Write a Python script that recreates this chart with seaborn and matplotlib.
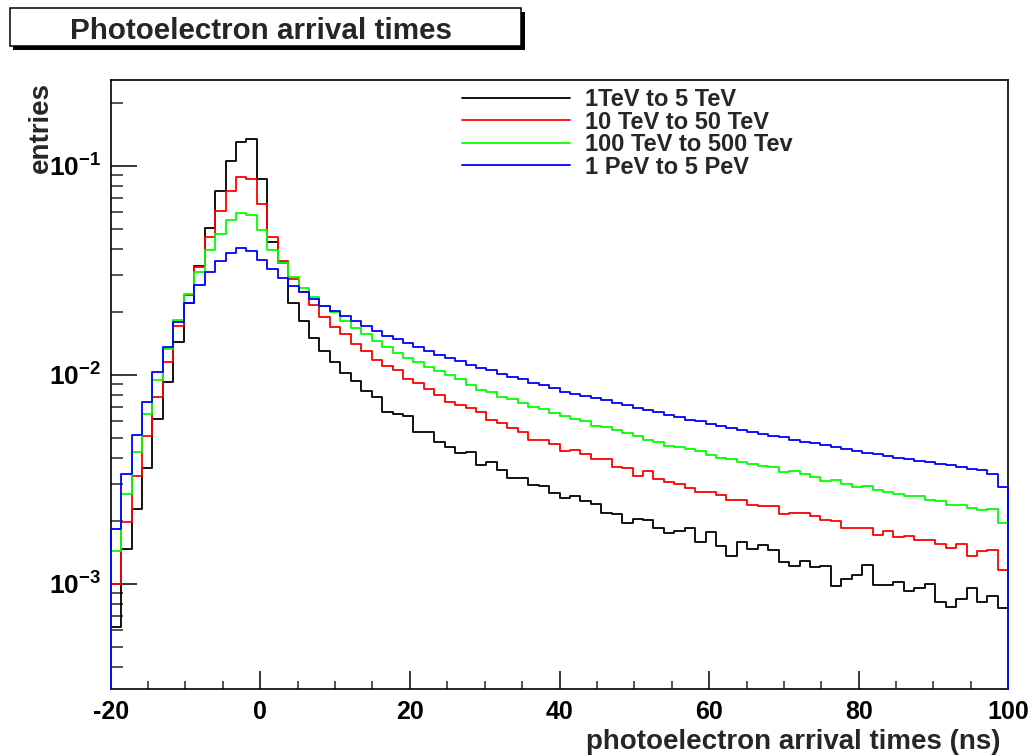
import numpy as np
import pandas as pd
import matplotlib
matplotlib.use("Agg")
import matplotlib.pyplot as plt
import seaborn as sns
from matplotlib.patches import Rectangle
from matplotlib.lines import Line2D
from matplotlib.ticker import LogLocator, NullFormatter, MultipleLocator, FixedLocator, FixedFormatter

# ---------------- data ----------------
x_min, x_max, n_bins = -20.0, 100.0, 86
y_min, y_max = 3.13e-4, 0.257

tev_1_5 = [6.23e-4, 1.47e-3, 2.28e-3, 3.57e-3, 6.16e-3, 9.22e-3, 1.43e-2, 2.21e-2, 3.32e-2, 5.05e-2,
           7.57e-2, 0.105, 0.130, 0.1346, 0.0864, 0.0431, 0.0341, 0.0220, 0.0181, 0.0150,
           0.0130, 0.01147, 0.01022, 9.33e-3, 8.36e-3, 7.85e-3, 6.65e-3, 6.46e-3, 6.34e-3, 5.30e-3,
           5.34e-3, 4.76e-3, 4.51e-3, 4.23e-3, 4.28e-3, 3.71e-3, 3.83e-3, 3.51e-3, 3.22e-3, 3.22e-3,
           2.97e-3, 2.94e-3, 2.71e-3, 2.58e-3, 2.62e-3, 2.49e-3, 2.41e-3, 2.19e-3, 2.15e-3, 1.95e-3,
           2.04e-3, 2.01e-3, 1.84e-3, 1.75e-3, 1.79e-3, 1.85e-3, 1.59e-3, 1.77e-3, 1.52e-3, 1.36e-3,
           1.58e-3, 1.47e-3, 1.53e-3, 1.45e-3, 1.27e-3, 1.22e-3, 1.28e-3, 1.20e-3, 1.22e-3, 9.78e-4,
           1.06e-3, 1.10e-3, 1.23e-3, 9.86e-4, 9.86e-4, 1.02e-3, 9.26e-4, 9.57e-4, 1.00e-3, 8.17e-4,
           7.71e-4, 8.42e-4, 9.51e-4, 8.20e-4, 8.70e-4, 7.68e-4]

tev_10_50 = [1.00e-3, 1.98e-3, 3.29e-3, 5.11e-3, 7.85e-3, 1.147e-2, 1.71e-2, 2.41e-2, 3.29e-2, 4.57e-2,
             6.09e-2, 7.59e-2, 8.80e-2, 8.67e-2, 6.54e-2, 4.54e-2, 3.51e-2, 2.87e-2, 2.49e-2, 2.16e-2,
             1.89e-2, 1.70e-2, 1.57e-2, 1.41e-2, 1.30e-2, 1.18e-2, 1.10e-2, 1.053e-2, 9.54e-3, 9.13e-3,
             8.57e-3, 8.02e-3, 7.38e-3, 7.19e-3, 6.91e-3, 6.61e-3, 6.05e-3, 5.89e-3, 5.56e-3, 5.34e-3,
             4.87e-3, 4.87e-3, 4.68e-3, 4.33e-3, 4.36e-3, 4.19e-3, 3.96e-3, 3.94e-3, 3.63e-3, 3.58e-3,
             3.29e-3, 3.45e-3, 3.18e-3, 3.08e-3, 3.00e-3, 2.86e-3, 2.75e-3, 2.74e-3, 2.66e-3, 2.52e-3,
             2.52e-3, 2.37e-3, 2.35e-3, 2.36e-3, 2.16e-3, 2.17e-3, 2.17e-3, 2.11e-3, 2.03e-3, 1.99e-3,
             1.85e-3, 1.85e-3, 1.84e-3, 1.71e-3, 1.78e-3, 1.68e-3, 1.69e-3, 1.62e-3, 1.62e-3, 1.55e-3,
             1.49e-3, 1.55e-3, 1.36e-3, 1.44e-3, 1.45e-3, 1.16e-3]

tev_100_500 = [1.44e-3, 2.68e-3, 4.28e-3, 6.46e-3, 9.46e-3, 1.33e-2, 1.83e-2, 2.43e-2, 3.11e-2, 3.95e-2,
               4.71e-2, 5.50e-2, 5.96e-2, 5.83e-2, 4.93e-2, 3.95e-2, 3.41e-2, 2.92e-2, 2.60e-2, 2.35e-2,
               2.13e-2, 2.00e-2, 1.81e-2, 1.68e-2, 1.56e-2, 1.45e-2, 1.36e-2, 1.27e-2, 1.20e-2, 1.15e-2,
               1.09e-2, 1.04e-2, 1.00e-2, 9.51e-3, 8.93e-3, 8.45e-3, 8.26e-3, 7.85e-3, 7.63e-3, 7.30e-3,
               7.03e-3, 6.83e-3, 6.54e-3, 6.37e-3, 6.14e-3, 6.00e-3, 5.68e-3, 5.60e-3, 5.44e-3, 5.24e-3,
               5.09e-3, 4.86e-3, 4.78e-3, 4.57e-3, 4.49e-3, 4.42e-3, 4.33e-3, 4.13e-3, 4.02e-3, 3.94e-3,
               3.83e-3, 3.73e-3, 3.66e-3, 3.61e-3, 3.42e-3, 3.47e-3, 3.34e-3, 3.25e-3, 3.11e-3, 3.13e-3,
               3.00e-3, 2.92e-3, 2.94e-3, 2.82e-3, 2.75e-3, 2.69e-3, 2.64e-3, 2.64e-3, 2.51e-3, 2.49e-3,
               2.37e-3, 2.39e-3, 2.31e-3, 2.25e-3, 2.28e-3, 1.95e-3]

pev_1_5 = [1.83e-3, 3.37e-3, 5.15e-3, 7.38e-3, 1.03e-2, 1.36e-2, 1.78e-2, 2.21e-2, 2.69e-2, 3.11e-2,
           3.51e-2, 3.83e-2, 4.03e-2, 3.92e-2, 3.54e-2, 3.19e-2, 2.89e-2, 2.66e-2, 2.48e-2, 2.30e-2,
           2.13e-2, 2.02e-2, 1.91e-2, 1.81e-2, 1.71e-2, 1.62e-2, 1.54e-2, 1.48e-2, 1.42e-2, 1.36e-2,
           1.30e-2, 1.25e-2, 1.20e-2, 1.16e-2, 1.11e-2, 1.08e-2, 1.05e-2, 1.01e-2, 9.72e-3, 9.54e-3,
           9.16e-3, 8.93e-3, 8.61e-3, 8.29e-3, 8.09e-3, 7.94e-3, 7.71e-3, 7.54e-3, 7.35e-3, 7.19e-3,
           6.91e-3, 6.76e-3, 6.61e-3, 6.41e-3, 6.25e-3, 6.09e-3, 5.98e-3, 5.83e-3, 5.68e-3, 5.56e-3,
           5.42e-3, 5.32e-3, 5.19e-3, 5.09e-3, 5.05e-3, 4.87e-3, 4.78e-3, 4.71e-3, 4.59e-3, 4.51e-3,
           4.40e-3, 4.31e-3, 4.23e-3, 4.19e-3, 4.10e-3, 4.01e-3, 3.94e-3, 3.88e-3, 3.81e-3, 3.74e-3,
           3.69e-3, 3.62e-3, 3.55e-3, 3.50e-3, 3.37e-3, 2.89e-3]

series_labels = ["1TeV to 5 TeV", "10 TeV to 50 TeV", "100 TeV to 500 Tev", "1 PeV to 5 PeV"]
series_colors = ["#000000", "#ff0000", "#00ff00", "#0000ff"]
x_ticks = [-20, 0, 20, 40, 60, 80, 100]
y_ticks = [1e-3, 1e-2, 1e-1]
y_tick_labels = [r"$\mathbf{10^{-3}}$", r"$\mathbf{10^{-2}}$", r"$\mathbf{10^{-1}}$"]
title = "Photoelectron arrival times"
x_title = "photoelectron arrival times (ns)"
y_title = "entries"

# ---------------- style ----------------
sns.set_style("white")
plt.rcParams["font.family"] = ["Liberation Sans", "DejaVu Sans"]
plt.rcParams["font.weight"] = "bold"
plt.rcParams["mathtext.fontset"] = "custom"
plt.rcParams["mathtext.bf"] = "Liberation Sans:bold"
plt.rcParams["mathtext.rm"] = "Liberation Sans:bold"
plt.rcParams["mathtext.it"] = "Liberation Sans:bold"

W, H = 1033, 756
fig = plt.figure(figsize=(W / 100, H / 100), dpi=100)
fig.patch.set_facecolor("white")

ax_l, ax_r, ax_t, ax_b = 110.7, 1008.3, 80.0, 689.3
ax = fig.add_axes([ax_l / W, 1 - ax_b / H, (ax_r - ax_l) / W, (ax_b - ax_t) / H])
ax.set_facecolor("white")

edges = np.linspace(x_min, x_max, n_bins + 1)
centers = 0.5 * (edges[:-1] + edges[1:])
all_series = [tev_1_5, tev_10_50, tev_100_500, pev_1_5]

for vals, lab, col in zip(all_series, series_labels, series_colors):
    df = pd.DataFrame({"t": centers, "w": np.asarray(vals, dtype=float)})
    sns.histplot(data=df, x="t", weights="w", bins=list(edges), element="step", fill=False,
                 color=col, linewidth=1.3, ax=ax, zorder=3)

ax.set_yscale("log")
ax.set_xlim(x_min, x_max)
ax.set_ylim(y_min, y_max)

# histogram outline edges down to the axis floor (as in ROOT drawing)
for vals, col in zip(all_series, series_colors):
    ax.vlines([edges[0]], y_min, vals[0], colors=col, linewidth=1.3, zorder=4, clip_on=False)
    ax.vlines([edges[-1]], y_min, vals[-1], colors=col, linewidth=1.3, zorder=4, clip_on=False)

# axes / ticks
for s in ax.spines.values():
    s.set_linewidth(1.2)
    s.set_color("black")
    s.set_zorder(2)

ax.xaxis.set_major_locator(FixedLocator(x_ticks))
ax.xaxis.set_minor_locator(MultipleLocator(5))
ax.set_xticklabels([str(t) for t in x_ticks])
ax.yaxis.set_major_locator(FixedLocator(y_ticks))
ax.yaxis.set_major_formatter(FixedFormatter(y_tick_labels))
ax.yaxis.set_minor_locator(LogLocator(base=10, subs=np.arange(2, 10), numticks=20))
ax.yaxis.set_minor_formatter(NullFormatter())

ax.tick_params(axis="x", which="major", direction="in", length=12.7, width=1.1,
               labelsize=18, pad=8, bottom=True, top=False, colors="black")
ax.tick_params(axis="x", which="minor", direction="in", length=6.0, width=1.1,
               bottom=True, top=False)
ax.tick_params(axis="y", which="major", direction="in", length=18.5, width=1.1,
               labelsize=19, pad=7, left=True, right=False, colors="black")
ax.tick_params(axis="y", which="minor", direction="in", length=8.9, width=1.1,
               left=True, right=False)
for lbl in ax.get_xticklabels() + ax.get_yticklabels():
    lbl.set_fontweight("bold")

ax.set_xlabel(x_title, fontsize=20, fontweight="bold", loc="right")
ax.xaxis.set_label_coords(1 - (ax_r - 1000) / (ax_r - ax_l), -(729 - ax_b) / (ax_b - ax_t))
ax.set_ylabel(y_title, fontsize=20, fontweight="bold", loc="top")
ax.yaxis.set_label_coords(-(ax_l - 54) / (ax_r - ax_l), (ax_b - 82) / (ax_b - ax_t))

# legend
handles = [Line2D([0], [0], color=c, linewidth=1.3) for c in series_colors]
leg = ax.legend(handles, series_labels, loc="upper left",
                bbox_to_anchor=(462 / W, 1 - 88 / H), bbox_transform=fig.transFigure,
                frameon=False, fontsize=17, handlelength=4.58, handletextpad=0.64,
                labelspacing=-0.02, borderpad=0, borderaxespad=0)
for t in leg.get_texts():
    t.set_fontweight("bold")

# title box with shadow
bx0, bx1, by0, by1, sh = 9.5, 521, 8.5, 46, 3.5
fig.add_artist(Rectangle(((bx0 + sh) / W, 1 - (by1 + sh) / H), (bx1 - bx0) / W, (by1 - by0) / H,
                         transform=fig.transFigure, facecolor="black", edgecolor="black", lw=0))
fig.add_artist(Rectangle((bx0 / W, 1 - by1 / H), (bx1 - bx0) / W, (by1 - by0) / H,
                         transform=fig.transFigure, facecolor="white", edgecolor="black", lw=1.1))
fig.text(261 / W, 1 - 39.3 / H, title, ha="center", va="baseline",
         fontsize=21.3, fontweight="bold")

fig.savefig("out.png", dpi=100, facecolor="white")
